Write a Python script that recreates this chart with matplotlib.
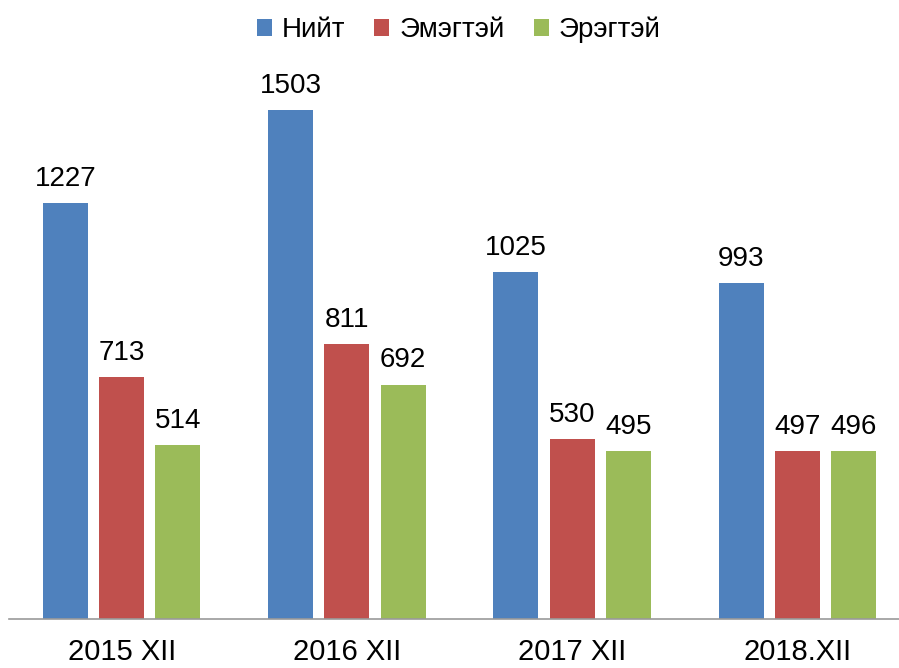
import numpy as np
import matplotlib.pyplot as plt

plt.rcParams['font.family'] = ['Liberation Sans', 'DejaVu Sans']

categories = ['2015 XII', '2016 XII', '2017 XII', '2018.XII']
series_names = ['Нийт', 'Эмэгтэй', 'Эрэгтэй']
total = [1227, 1503, 1025, 993]
female = [713, 811, 530, 497]
male = [514, 692, 495, 496]
colors = ['#4f81bd', '#c0504d', '#9bbb59']

fig = plt.figure(figsize=(8.99, 6.68), dpi=100)
ax = fig.add_axes([9 / 899, 49 / 668, 901 / 899, 542 / 668])

x = np.arange(len(categories))
w = 0.2
step = 0.25
for i, (vals, name, c) in enumerate(zip([total, female, male], series_names, colors)):
    pos = x + (i - 1) * step
    bars = ax.bar(pos, vals, w, color=c, label=name)
    for b, v in zip(bars, vals):
        ax.annotate(str(v), (b.get_x() + b.get_width() / 2, v),
                    xytext=(0, 8), textcoords='offset points',
                    ha='center', va='bottom', fontsize=20)

ax.set_xlim(-0.5, 3.5)
ax.set_ylim(0, 1600)
ax.set_xticks(x)
ax.set_xticklabels(categories, fontsize=21)
ax.tick_params(axis='x', length=0, pad=14)
ax.set_yticks([])
for s in ['top', 'right', 'left']:
    ax.spines[s].set_visible(False)
ax.spines['bottom'].set_color('#9a9a9a')
ax.spines['bottom'].set_linewidth(1.2)

fig.legend(loc='upper center', bbox_to_anchor=(0.51, 1.012), ncol=3, frameon=False,
           fontsize=20, handlelength=0.55, handleheight=0.55, handletextpad=0.35,
           columnspacing=1.05)

fig.savefig('out.png', dpi=100)
